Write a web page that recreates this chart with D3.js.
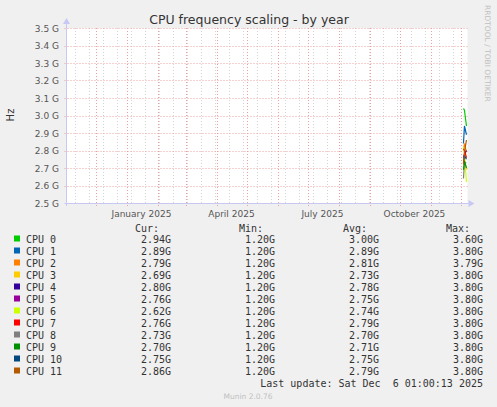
<!DOCTYPE html>
<meta charset="utf-8">
<script src="https://d3js.org/d3.v7.min.js"></script>
<style>
  body { margin: 0; background: #f0f0f0; }
</style>
<div id="chart"></div>
<script>

// chart data
var cpuNames = ["CPU 0", "CPU 1", "CPU 2", "CPU 3", "CPU 4", "CPU 5",
                "CPU 6", "CPU 7", "CPU 8", "CPU 9", "CPU 10", "CPU 11"];
var cpuColors = ["#00cc00", "#0066b3", "#ff8000", "#ffcc00", "#330099", "#990099",
                 "#ccff00", "#ff0000", "#808080", "#008f00", "#00487d", "#b35a00"];
var sampleDays = ["2025-12-03", "2025-12-04", "2025-12-06"];
// frequency in GHz for each day, one list per CPU
var cpuSeries = [
  [3.04, 3.03, 2.94],
  [2.84, 2.94, 2.89],
  [2.80, 2.84, 2.79],
  [2.76, 2.74, 2.69],
  [2.76, 2.78, 2.80],
  [2.73, 2.76, 2.76],
  [2.82, 2.78, 2.62],
  [2.81, 2.80, 2.76],
  [2.64, 2.73, 2.73],
  [2.69, 2.74, 2.70],
  [2.73, 2.77, 2.75],
  [2.72, 2.79, 2.86]
];
var curVals = ["2.94G", "2.89G", "2.79G", "2.69G", "2.80G", "2.76G", "2.62G", "2.76G", "2.73G", "2.70G", "2.75G", "2.86G"];
var minVals = ["1.20G", "1.20G", "1.20G", "1.20G", "1.20G", "1.20G", "1.20G", "1.20G", "1.20G", "1.20G", "1.20G", "1.20G"];
var avgVals = ["3.00G", "2.89G", "2.81G", "2.73G", "2.78G", "2.75G", "2.74G", "2.79G", "2.70G", "2.71G", "2.75G", "2.79G"];
var maxVals = ["3.60G", "3.80G", "3.79G", "3.80G", "3.80G", "3.80G", "3.80G", "3.80G", "3.80G", "3.80G", "3.80G", "3.80G"];
var yTicks = [2.5, 2.6, 2.7, 2.8, 2.9, 3.0, 3.1, 3.2, 3.3, 3.4, 3.5];
var monthLabels = ["2025-01-15", "2025-04-15", "2025-07-15", "2025-10-15"];
var lastUpdate = "Last update: Sat Dec  6 01:00:13 2025";

var W = 497, H = 407;
var plot = {left: 66.5, right: 466.5, top: 28, bottom: 203};

var svg = d3.select("#chart").append("svg")
    .attr("width", W).attr("height", H)
    .style("font-family", "'DejaVu Sans', sans-serif");

svg.append("rect").attr("width", W).attr("height", H).attr("fill", "#f0f0f0");

// scales: 400 days ending at last update
var endTime = new Date(2025, 11, 6, 1, 0, 13);
var startTime = d3.timeDay.offset(endTime, -400);
var x = d3.scaleTime().domain([startTime, endTime]).range([plot.left, plot.right]);
var y = d3.scaleLinear().domain([2.5, 3.5]).range([plot.bottom, plot.top]);
var parseDay = d3.timeParse("%Y-%m-%d");

svg.append("rect")
    .attr("x", plot.left).attr("y", plot.top)
    .attr("width", plot.right - plot.left + 1).attr("height", plot.bottom - plot.top)
    .attr("fill", "#ffffff");

// grid: every other week (gray), month starts (red), each 0.1 G (red)
var grid = svg.append("g").attr("fill", "none").attr("stroke-width", 1).attr("stroke-dasharray", "1,2");
grid.selectAll(".wk")
  .data(d3.timeSunday.range(new Date(2024, 10, 10), endTime, 2))
  .enter().append("line")
    .attr("x1", function(d) { return Math.round(x(d)) + 0.5; })
    .attr("x2", function(d) { return Math.round(x(d)) + 0.5; })
    .attr("y1", plot.top).attr("y2", plot.bottom)
    .attr("stroke", "#d4d4d4");
grid.selectAll(".mo")
  .data(d3.timeMonth.range(startTime, endTime))
  .enter().append("line")
    .attr("x1", function(d) { return Math.round(x(d)) + 0.5; })
    .attr("x2", function(d) { return Math.round(x(d)) + 0.5; })
    .attr("y1", plot.top).attr("y2", plot.bottom + 3)
    .attr("stroke", "#eea0a0");
grid.selectAll(".hz")
  .data(yTicks.slice(1))
  .enter().append("line")
    .attr("x1", plot.left - 2).attr("x2", plot.right + 1)
    .attr("y1", function(d) { return Math.round(y(d)) + 0.5; })
    .attr("y2", function(d) { return Math.round(y(d)) + 0.5; })
    .attr("stroke", "#eea0a0");

// y axis labels
svg.append("g").selectAll("text")
  .data(yTicks)
  .enter().append("text")
    .attr("x", 59)
    .attr("y", function(d) { return y(d) + 3.5; })
    .attr("text-anchor", "end")
    .attr("font-size", 9)
    .attr("fill", "#555")
    .text(function(d) { return d.toFixed(1) + " G"; });

// x axis labels
svg.append("g").selectAll("text")
  .data(monthLabels)
  .enter().append("text")
    .attr("x", function(d) { return x(parseDay(d)); })
    .attr("y", 217)
    .attr("text-anchor", "middle")
    .attr("font-size", 9)
    .attr("fill", "#555")
    .text(function(d) { return d3.timeFormat("%B %Y")(parseDay(d)); });

// axes lines and arrows
var axisCol = "#c8c8f4";
svg.append("line").attr("x1", plot.left - 2).attr("x2", plot.right + 3)
    .attr("y1", plot.bottom + 0.5).attr("y2", plot.bottom + 0.5).attr("stroke", axisCol);
svg.append("line").attr("x1", plot.left).attr("x2", plot.left)
    .attr("y1", plot.bottom + 3).attr("y2", plot.top - 4).attr("stroke", axisCol);
svg.append("path").attr("d", "M" + (plot.right + 2) + "," + (plot.bottom - 3) + "l6,3.5l-6,3.5z").attr("fill", axisCol);
svg.append("path").attr("d", "M" + (plot.left - 3.5) + "," + (plot.top - 4) + "l3.5,-6l3.5,6z").attr("fill", axisCol);

// lines
var line = d3.line()
    .x(function(d, i) { return x(parseDay(sampleDays[i])); })
    .y(function(d) { return y(d); });
svg.append("g").selectAll("path")
  .data(cpuSeries)
  .enter().append("path")
    .attr("d", line)
    .attr("fill", "none")
    .attr("stroke", function(d, i) { return cpuColors[i]; })
    .attr("stroke-width", 1.2);

// title and side texts
svg.append("text").attr("x", 249).attr("y", 24).attr("text-anchor", "middle")
    .attr("font-size", 12.5).attr("fill", "#333")
    .text("CPU frequency scaling - by year");
svg.append("text").attr("transform", "translate(14,115)rotate(-90)")
    .attr("text-anchor", "middle").attr("font-size", 10).attr("fill", "#333")
    .text("Hz");
svg.append("text").attr("transform", "translate(485,5)rotate(90)")
    .attr("text-anchor", "start").attr("font-size", 7.5).attr("fill", "#c0c0c0")
    .text("RRDTOOL / TOBI OETIKER");

// legend
var mono = "'DejaVu Sans Mono', monospace";
var legend = svg.append("g").attr("font-family", mono).attr("font-size", 10).attr("fill", "#333");
var headers = [["Cur:", 159], ["Min:", 263], ["Avg:", 367], ["Max:", 470]];
legend.selectAll(".hd").data(headers).enter().append("text")
    .attr("x", function(d) { return d[1]; }).attr("y", 231.5)
    .attr("text-anchor", "end").text(function(d) { return d[0]; });

var rows = legend.selectAll(".row").data(cpuNames).enter().append("g")
    .attr("transform", function(d, i) { return "translate(0," + (243 + i * 12) + ")"; });
rows.append("rect").attr("x", 14).attr("y", -7.5).attr("width", 6).attr("height", 6)
    .attr("fill", function(d, i) { return cpuColors[i]; });
rows.append("text").attr("x", 26).text(function(d) { return d; });
var cols = [[curVals, 171], [minVals, 275], [avgVals, 379], [maxVals, 483]];
cols.forEach(function(c) {
  rows.append("text").attr("x", c[1]).attr("text-anchor", "end")
      .text(function(d, i) { return c[0][i]; });
});
legend.append("text").attr("x", 483).attr("y", 387).attr("text-anchor", "end")
    .attr("xml:space", "preserve").style("white-space", "pre").text(lastUpdate);

svg.append("text").attr("x", 248).attr("y", 399).attr("text-anchor", "middle")
    .attr("font-size", 7.5).attr("fill", "#c0c0c0").text("Munin 2.0.76");

</script>
